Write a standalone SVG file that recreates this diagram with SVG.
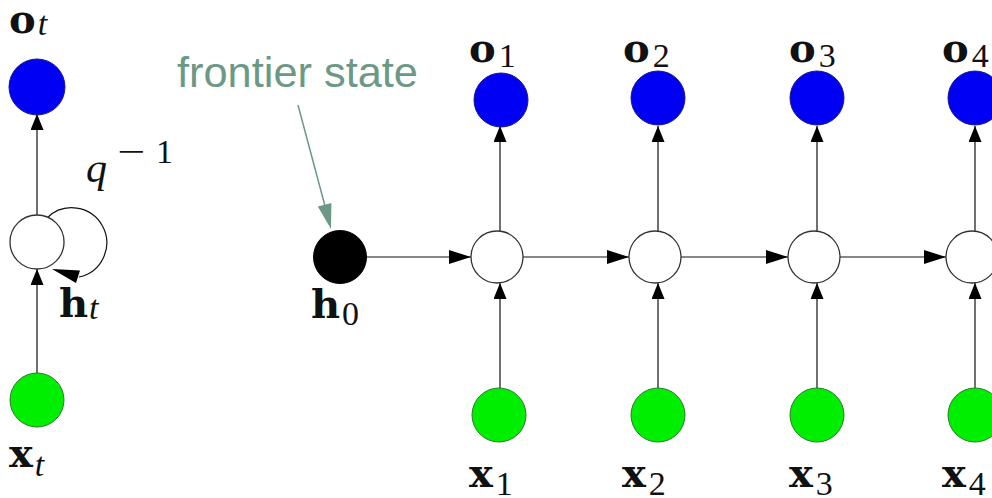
<svg xmlns="http://www.w3.org/2000/svg" width="992" height="498" viewBox="0 0 992 498">
<style>
.bg{fill:#ffffff}
.out{fill:#0000f5;stroke:#1a1a80;stroke-width:1}
.hid{fill:#ffffff;stroke:#333333;stroke-width:1.3}
.inp{fill:#00ee00;stroke:#2a7a2a;stroke-width:1}
.init{fill:#000000;stroke:#000000;stroke-width:1}
.ln{stroke:#111111;stroke-width:1.2;fill:none}
.bold{font-family:"DejaVu Serif",serif;font-weight:bold;font-size:40px;fill:#111111}
.sub{font-family:"Liberation Serif",serif;font-weight:normal;font-style:normal;font-size:34px;fill:#111111}
.it{font-family:"Liberation Serif",serif;font-weight:normal;font-style:italic;fill:#111111}
.note{font-family:"Liberation Sans",Arial,sans-serif;font-size:42px;fill:#6b9985}
</style>
<defs>
<marker id="ah" markerUnits="userSpaceOnUse" markerWidth="22" markerHeight="14" refX="22" refY="7" orient="auto"><path d="M0,0 L22,7 L0,14 z" fill="#000000"/></marker>
<marker id="av" markerUnits="userSpaceOnUse" markerWidth="16" markerHeight="13" refX="16" refY="6.5" orient="auto"><path d="M0,0 L16,6.5 L0,13 z" fill="#000000"/></marker>
</defs>
<rect class="bg" x="0" y="0" width="992" height="498"/>

<g id="connectors">
<line class="ln" x1="37" y1="373" x2="37" y2="269" marker-end="url(#av)"/>
<line class="ln" x1="37" y1="215" x2="37" y2="114" marker-end="url(#av)"/>
<path class="ln" d="M47,218 A35,35 0 1 1 79,277"/>
<polygon points="52,269 80,270.5 76,283" fill="#000000"/>
<line x1="298" y1="105" x2="325" y2="206" stroke="#6b9985" stroke-width="1.5"/>
<polygon points="331,229 331.4,203 317.8,206.6" fill="#6b9985"/>
<line class="ln" x1="367" y1="257" x2="471" y2="257" marker-end="url(#ah)"/>
<line class="ln" x1="523" y1="257" x2="629" y2="257" marker-end="url(#ah)"/>
<line class="ln" x1="681" y1="257" x2="788" y2="257" marker-end="url(#ah)"/>
<line class="ln" x1="840" y1="257" x2="946" y2="257" marker-end="url(#ah)"/>
<line class="ln" x1="500" y1="388" x2="500" y2="283" marker-end="url(#av)"/>
<line class="ln" x1="658" y1="388" x2="658" y2="283" marker-end="url(#av)"/>
<line class="ln" x1="817" y1="388" x2="817" y2="283" marker-end="url(#av)"/>
<line class="ln" x1="975" y1="388" x2="975" y2="283" marker-end="url(#av)"/>
<line class="ln" x1="500" y1="231" x2="500" y2="126" marker-end="url(#av)"/>
<line class="ln" x1="658" y1="231" x2="658" y2="126" marker-end="url(#av)"/>
<line class="ln" x1="817" y1="231" x2="817" y2="126" marker-end="url(#av)"/>
<line class="ln" x1="975" y1="231" x2="975" y2="126" marker-end="url(#av)"/>
</g>

<g id="node-ot"><circle class="out" cx="37" cy="87" r="28"/><text class="bold" x="9" y="33">o<tspan class="it" font-size="34" dx="2" dy="2">t</tspan></text></g>
<g id="node-ht"><circle class="hid" cx="37" cy="242" r="27"/><text class="bold" x="59" y="317">h<tspan class="it" font-size="34" dx="1" dy="2">t</tspan></text></g>
<g id="label-q"><text class="it" font-size="42" x="86" y="182">q</text><text class="sub" font-size="30" x="117" y="163" textLength="28" lengthAdjust="spacingAndGlyphs">−</text><text class="sub" font-size="30" x="156" y="163">1</text></g>
<g id="node-xt"><circle class="inp" cx="37" cy="400" r="27"/><text class="bold" x="9" y="467">x<tspan class="it" font-size="34" dx="2" dy="9">t</tspan></text></g>

<g id="label-frontier"><text class="note" x="177" y="87" textLength="241" lengthAdjust="spacingAndGlyphs">frontier state</text></g>
<g id="node-h0"><circle class="init" cx="340" cy="257" r="26.5"/><text class="bold" x="311" y="318">h<tspan class="sub" dx="2" dy="7">0</tspan></text></g>

<g id="node-o1"><circle class="out" cx="501" cy="100" r="27"/><text class="bold" x="469" y="62">o<tspan class="sub" dx="3" dy="5">1</tspan></text></g>
<g id="node-o2"><circle class="out" cx="658" cy="98" r="27"/><text class="bold" x="623" y="62">o<tspan class="sub" dx="3" dy="5">2</tspan></text></g>
<g id="node-o3"><circle class="out" cx="817" cy="98" r="27"/><text class="bold" x="789" y="62">o<tspan class="sub" dx="3" dy="5">3</tspan></text></g>
<g id="node-o4"><circle class="out" cx="975" cy="98" r="27"/><text class="bold" x="942" y="62">o<tspan class="sub" dx="3" dy="5">4</tspan></text></g>

<g id="node-h1"><circle class="hid" cx="497" cy="257" r="26"/></g>
<g id="node-h2"><circle class="hid" cx="655" cy="257" r="26"/></g>
<g id="node-h3"><circle class="hid" cx="814" cy="257" r="26"/></g>
<g id="node-h4"><circle class="hid" cx="972" cy="257" r="26"/></g>

<g id="node-x1"><circle class="inp" cx="499" cy="415" r="27"/><text class="bold" x="469" y="487">x<tspan class="sub" dx="3" dy="8">1</tspan></text></g>
<g id="node-x2"><circle class="inp" cx="658" cy="415" r="27"/><text class="bold" x="622" y="487">x<tspan class="sub" dx="3" dy="8">2</tspan></text></g>
<g id="node-x3"><circle class="inp" cx="817" cy="415" r="27"/><text class="bold" x="789" y="487">x<tspan class="sub" dx="3" dy="8">3</tspan></text></g>
<g id="node-x4"><circle class="inp" cx="975" cy="415" r="27"/><text class="bold" x="942" y="487">x<tspan class="sub" dx="3" dy="8">4</tspan></text></g>
</svg>
